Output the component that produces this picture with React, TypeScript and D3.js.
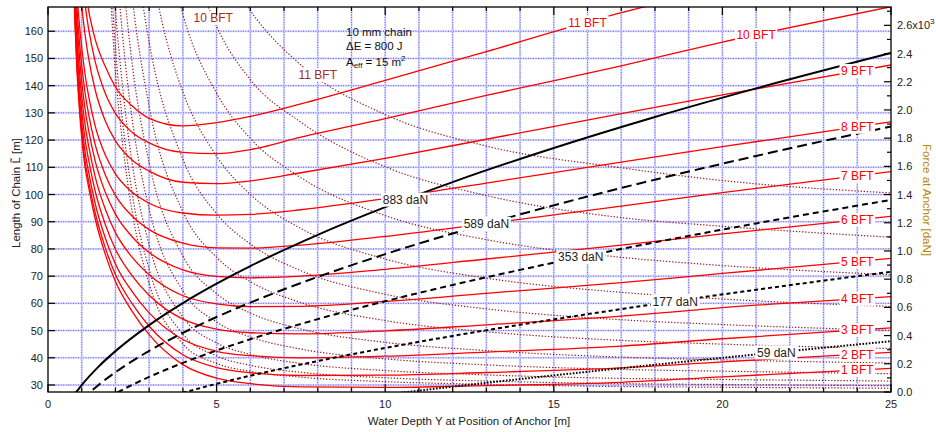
import React from "react";
import * as d3 from "d3";

// ---------- data ----------
const depthGrid = [0.75, 0.8, 0.85, 0.9, 0.95, 1.0, 1.1, 1.2, 1.4, 1.7, 2.0, 2.5, 3.0, 4.0, 5.0, 6.0, 7.5, 10, 13, 17, 20, 25];

const chain1 = [182, 163, 148, 137, 128, 121, 110, 103, 91, 78, 68, 57, 48.5, 37.5, 32.5, 30.5, 29.3, 29.1, 29.8, 31, 33, 36.1];
const chain2 = [183.0, 164.4, 149.8, 139.0, 130.1, 123.1, 112.2, 105.2, 93.2, 80.4, 70.6, 59.8, 51.6, 41.1, 36.4, 34.5, 33.5, 33.6, 34.6, 36.3, 38.5, 42.0];
const chain3 = [184.5, 166.6, 152.5, 142.0, 133.3, 126.4, 115.6, 108.5, 96.6, 84.0, 74.5, 64.2, 56.5, 46.7, 42.4, 40.8, 40.0, 40.6, 42.1, 44.3, 47.0, 51.0];
const chain4 = [186.5, 169.6, 156.2, 146, 137.6, 130.9, 120.2, 113.1, 101.2, 89, 79.9, 70.1, 63.0, 54.2, 50.5, 49.2, 48.8, 49.9, 52.1, 55.3, 58.4, 62.5];
const chain5 = [188.8, 173, 160.4, 150.7, 142.6, 136, 125.5, 118.2, 106.5, 94.6, 86, 76.9, 70.5, 62.8, 59.8, 58.8, 58.9, 60.7, 63.7, 67.6, 71, 76.5];
const chain6 = [191.4, 176.8, 165, 155.8, 148, 141.6, 131.3, 123.9, 112.3, 100.8, 92.8, 84.4, 78.7, 72.3, 69.9, 69.4, 70.0, 72.5, 76.3, 81.4, 85.5, 92];
const chain7 = [194, 180.6, 169.8, 161, 153.6, 147.4, 137.3, 129.8, 118.3, 107.2, 99.7, 92, 87.1, 82.1, 80.4, 80.3, 81.4, 84.6, 89.3, 95.7, 100.7, 108.4];
const chain8 = [197, 185, 175.2, 167, 160, 154, 144.1, 136.5, 125.1, 114.5, 107.6, 100.8, 96.8, 93.2, 92.4, 92.7, 94.4, 98.5, 104.2, 111.9, 117.6, 126.7];
const chain9 = [215.8, 202.9, 192.3, 183.4, 175.7, 169.3, 158.7, 150.4, 138.4, 127.0, 119.7, 112.6, 108.6, 104.5, 104, 105, 108.0, 113.3, 120.3, 129.7, 136.6, 147.6];
const chain10 = [229, 215.8, 204.7, 195.4, 187.5, 180.7, 169.8, 161.2, 148.8, 137.1, 129.8, 122.8, 119.0, 115.5, 115, 116.5, 121.1, 127.9, 136.4, 147.3, 156, 169.0];
const chain11 = [233.6, 220, 209.2, 200, 192.1, 185.4, 176, 168, 157, 147, 139.5, 132.5, 128, 125.2, 126.4, 128.7, 133.3, 141.9, 152.5, 166.8, 175.9, 191.2];
const chainCurves = [chain1, chain2, chain3, chain4, chain5, chain6, chain7, chain8, chain9, chain10, chain11];

const bftNames = ["1 BFT", "2 BFT", "3 BFT", "4 BFT", "5 BFT", "6 BFT", "7 BFT", "8 BFT", "9 BFT", "10 BFT", "11 BFT"];
const bftLabelDepth = [24, 24, 24, 24, 24, 24, 24, 24, 24, 21, 16];

// force at anchor (x10^3 daN) for each wind force
const forceDepth1 = [1.7, 1.85, 2.0, 2.2, 2.5, 3, 4, 5, 6, 7.5, 10, 13, 17, 20, 25];
const force1 = [3.513, 2.827, 2.268, 1.786, 1.274, 0.767, 0.341, 0.2025, 0.146, 0.105, 0.0733, 0.0543, 0.0388, 0.0338, 0.0266];
const forceDepth2 = [1.7, 1.85, 2.0, 2.2, 2.5, 3, 4, 5, 6, 7.5, 10, 13, 17, 20, 25];
const force2 = [3.732, 3.016, 2.445, 1.942, 1.402, 0.8686, 0.4108, 0.2553, 0.189, 0.1396, 0.101, 0.0777, 0.0594, 0.0531, 0.0448];
const forceDepth3 = [1.7, 1.85, 2.0, 2.2, 2.5, 3, 4, 5, 6, 7.5, 10, 13, 17, 20, 25];
const force3 = [4.075, 3.328, 2.723, 2.191, 1.617, 1.042, 0.5315, 0.348, 0.2665, 0.2021, 0.152, 0.1211, 0.0966, 0.0889, 0.0776];
const forceDepth4 = [2.0, 2.2, 2.5, 3, 4, 5, 6, 7.5, 10, 13, 17, 20, 25];
const force4 = [3.133, 2.556, 1.928, 1.296, 0.7173, 0.496, 0.3903, 0.3044, 0.2347, 0.1923, 0.16, 0.1478, 0.1295];
const forceDepth5 = [2.0, 2.2, 2.5, 3, 4, 5, 6, 7.5, 10, 13, 17, 20, 25];
const force5 = [3.629, 3.007, 2.321, 1.624, 0.9643, 0.6974, 0.56, 0.4469, 0.352, 0.2937, 0.2473, 0.2279, 0.2053];
const forceDepth6 = [2.2, 2.5, 3, 4, 5, 6, 7.5, 10, 13, 17, 20, 25];
const force6 = [3.53, 2.796, 2.0245, 1.279, 0.9547, 0.7824, 0.6342, 0.5063, 0.427, 0.366, 0.3393, 0.308];
const forceDepth7 = [2.5, 2.75, 3, 4, 5, 6, 7.5, 10, 13, 17, 20, 25];
const force7 = [3.322, 2.851, 2.48, 1.651, 1.2646, 1.0494, 0.8602, 0.693, 0.5896, 0.5123, 0.4783, 0.437];
const forceDepth8 = [3.0, 3.5, 4, 5, 6, 7.5, 10, 13, 17, 20, 25];
const force8 = [3.064, 2.507, 2.1286, 1.672, 1.4005, 1.1594, 0.9429, 0.8074, 0.7066, 0.6594, 0.606];
const forceDepth9 = [3.5, 4, 5, 6, 7.5, 10, 13, 17, 20, 25];
const force9 = [3.179, 2.677, 2.119, 1.7985, 1.52, 1.2508, 1.0804, 0.955, 0.8966, 0.8312];
const forceDepth10 = [4, 4.5, 5, 6, 7.5, 10, 13, 17, 20, 25];
const force10 = [3.271, 2.892, 2.592, 2.215, 1.913, 1.597, 1.393, 1.2366, 1.1753, 1.0973];
const forceDepth11 = [5, 5.5, 6, 7.5, 10, 13, 17, 20, 25];
const force11 = [3.133, 2.893, 2.705, 2.319, 1.9675, 1.744, 1.59, 1.4995, 1.4114];
const forceCurves = [
  [forceDepth1, force1], [forceDepth2, force2], [forceDepth3, force3], [forceDepth4, force4],
  [forceDepth5, force5], [forceDepth6, force6], [forceDepth7, force7], [forceDepth8, force8],
  [forceDepth9, force9], [forceDepth10, force10], [forceDepth11, force11],
];
const forceLabelNames = ["10 BFT", "11 BFT"];
const forceLabelCurve = [9, 10];
const forceLabelDepth = [4.9, 8.0];

// constant anchor force contours (chain length vs depth)
const contourNames = ["883 daN", "589 daN", "353 daN", "177 daN", "59 daN"];
const contour883Depth = [0.8, 1, 1.5, 2, 3, 4, 5, 6, 8, 10, 12, 15, 18, 21, 25];
const contour883Len = [26.8, 30.0, 36.76, 42.45, 52.02, 60.11, 67.24, 73.7, 85.19, 95.35, 104.57, 117.1, 128.5, 139.0, 152.0];
const contour589Depth = [1.0, 1.2, 1.5, 2, 3, 4, 5, 6, 8, 10, 12, 14, 16, 18, 21, 25];
const contour589Len = [24.5, 26.86, 30.03, 34.69, 42.53, 49.14, 54.99, 60.29, 69.73, 78.09, 85.68, 92.7, 99.26, 105.45, 114.18, 124.98];
const contour353Depth = [1.8, 2, 2.5, 3, 4, 5, 6, 8, 10, 12, 14, 16, 18, 21, 25];
const contour353Len = [25.5, 26.88, 30.08, 32.97, 38.13, 42.68, 46.82, 54.21, 60.78, 66.76, 72.3, 77.5, 82.42, 89.38, 98.03];
const contour177Depth = [3.0, 3.8, 4, 4.5, 5, 6, 8, 10, 12, 14, 16, 18, 21, 25];
const contour177Len = [23.4, 26.44, 27.14, 28.83, 30.43, 33.42, 38.8, 43.61, 48.03, 52.14, 56.03, 59.73, 65.0, 71.62];
const contour59Depth = [10, 10.5, 11, 12, 14, 16, 18, 21, 25];
const contour59Len = [26.46, 27.21, 27.95, 29.39, 32.19, 34.87, 37.47, 41.24, 46.1];
const contourCurves = [
  [contour883Depth, contour883Len], [contour589Depth, contour589Len], [contour353Depth, contour353Len],
  [contour177Depth, contour177Len], [contour59Depth, contour59Len],
];
const contourDash = ["none", "10,5", "6,4", "4,3", "1.6,1.6"];
const contourLabelDepth = [10.6, 13.0, 15.8, 18.6, 21.6];

const depthTicks = [0, 5, 10, 15, 20, 25];
const lengthTicks = [30, 40, 50, 60, 70, 80, 90, 100, 110, 120, 130, 140, 150, 160];
const forceTicks = [0, 0.2, 0.4, 0.6, 0.8, 1.0, 1.2, 1.4, 1.6, 1.8, 2.0, 2.2, 2.4, 2.6];

// ---------- layout ----------
const W = 936, H = 432;
const PL = 48, PR = 891, PT = 7, PB = 392;
const FONT = "'Liberation Sans', Arial, Helvetica, sans-serif";

export default function App() {
  const x = d3.scaleLinear().domain([0, 25]).range([PL, PR]);
  const yL = d3.scaleLinear().domain([27.43, 168.9]).range([PB, PT]);
  const yF = d3.scaleLinear().domain([0, 2.73]).range([PB, PT]);
  const line = d3.line<[number, number]>().curve(d3.curveMonotoneX);

  const minorX = d3.range(1, 25).filter((v) => v % 5 !== 0);
  const minorF = d3.range(1, 28, 2).map((v) => v / 10);

  const labelBox = (cx: number, cy: number, text: string, size: number, color: string, key: string) => {
    const w = text.length * size * 0.56 + 2;
    const h = size + 2;
    return (
      <g key={key}>
        <rect x={cx - w / 2} y={cy - h / 2} width={w} height={h} fill="white" />
        <text x={cx} y={cy + size * 0.36} textAnchor="middle" fontSize={size} fill={color} fontFamily={FONT}>
          {text}
        </text>
      </g>
    );
  };

  return (
    <svg width={W} height={H} style={{ position: "absolute", left: 0, top: 0, background: "white" }}>
      <defs>
        <clipPath id="plotclip">
          <rect x={PL} y={PT} width={PR - PL} height={PB - PT} />
        </clipPath>
      </defs>
      <rect x={0} y={0} width={W} height={H} fill="white" />

      {/* grid */}
      <g>
        {d3.range(1, 25).map((v) => (
          <g key={"gx" + v}>
            <line x1={x(v)} x2={x(v)} y1={PT} y2={PB} stroke="#d6d6ff" strokeWidth={2} />
            <line x1={x(v)} x2={x(v)} y1={PT} y2={PB} stroke="#5f5fff" strokeWidth={1} strokeDasharray="1,1.5" />
          </g>
        ))}
        {lengthTicks.map((v) => (
          <g key={"gy" + v}>
            <line x1={PL} x2={PR} y1={yL(v)} y2={yL(v)} stroke="#d6d6ff" strokeWidth={2} />
            <line x1={PL} x2={PR} y1={yL(v)} y2={yL(v)} stroke="#5f5fff" strokeWidth={1} strokeDasharray="1,1.5" />
          </g>
        ))}
      </g>

      <g clipPath="url(#plotclip)">
        {/* force at anchor per wind force (dotted) */}
        {forceCurves.map(([ds, fs], i) => (
          <path
            key={"f" + i}
            d={line(ds.map((d, j) => [x(d), yF(fs[j])] as [number, number])) || ""}
            fill="none"
            stroke="#981c1c"
            strokeWidth={1.2}
            strokeDasharray="1.3,1.8"
          />
        ))}
        {/* chain length per wind force (red) */}
        {chainCurves.map((ls, i) => (
          <path
            key={"c" + i}
            d={line(depthGrid.map((d, j) => [x(d), yL(ls[j])] as [number, number])) || ""}
            fill="none"
            stroke="#ff0000"
            strokeWidth={1.3}
          />
        ))}
        {/* constant force contours (black) */}
        {contourCurves.map(([ds, ls], i) => (
          <path
            key={"k" + i}
            d={line(ds.map((d, j) => [x(d), yL(ls[j])] as [number, number])) || ""}
            fill="none"
            stroke="#000"
            strokeWidth={2}
            strokeDasharray={contourDash[i]}
          />
        ))}
      </g>

      {/* labels */}
      {chainCurves.map((ls, i) => {
        const interp = d3.scaleLinear().domain(depthGrid).range(ls);
        const d = bftLabelDepth[i];
        return labelBox(x(d), yL(interp(d)), bftNames[i], 12, "#ff0000", "bl" + i);
      })}
      {forceLabelNames.map((name, i) => {
        const [ds, fs] = forceCurves[forceLabelCurve[i]];
        const interp = d3.scaleLinear().domain(ds).range(fs);
        const d = forceLabelDepth[i];
        return labelBox(x(d), yF(interp(d)), name, 12, "#a52a2a", "fl" + i);
      })}
      {contourCurves.map(([ds, ls], i) => {
        const interp = d3.scaleLinear().domain(ds).range(ls);
        const d = contourLabelDepth[i];
        return labelBox(x(d), yL(interp(d)), contourNames[i], 12, "#222", "kl" + i);
      })}

      {/* info text */}
      <g fontFamily={FONT} fontSize={11.5} fill="#111">
        <text x={346} y={36}>10 mm chain</text>
        <text x={346} y={50}>ΔE = 800 J</text>
        <text x={346} y={66}>
          A<tspan fontSize={8} dy={2}>eff</tspan>
          <tspan dy={-2}> = 15 m</tspan>
          <tspan fontSize={8} dy={-5}>2</tspan>
        </text>
      </g>

      {/* frame */}
      <rect x={PL} y={PT} width={PR - PL} height={PB - PT} fill="none" stroke="#000" strokeWidth={1.3} />

      {/* ticks */}
      <g stroke="#000" strokeWidth={1.2}>
        {depthTicks.map((v) => (
          <g key={"xt" + v}>
            <line x1={x(v)} x2={x(v)} y1={PB} y2={PB - 8} />
            <line x1={x(v)} x2={x(v)} y1={PT} y2={PT + 8} />
          </g>
        ))}
        {minorX.map((v) => (
          <g key={"xm" + v}>
            <line x1={x(v)} x2={x(v)} y1={PB} y2={PB - 4} />
            <line x1={x(v)} x2={x(v)} y1={PT} y2={PT + 4} />
          </g>
        ))}
        {lengthTicks.map((v) => (
          <line key={"yt" + v} x1={PL} x2={PL + 7} y1={yL(v)} y2={yL(v)} />
        ))}
        {forceTicks.map((v) => (
          <line key={"ft" + v} x1={PR} x2={PR - 7} y1={yF(v)} y2={yF(v)} />
        ))}
        {minorF.map((v) => (
          <line key={"fm" + v} x1={PR} x2={PR - 4} y1={yF(v)} y2={yF(v)} />
        ))}
      </g>

      {/* tick labels */}
      <g fontFamily={FONT} fontSize={11} fill="#222">
        {depthTicks.map((v) => (
          <text key={"xl" + v} x={x(v)} y={408} textAnchor="middle">{v}</text>
        ))}
        {lengthTicks.map((v) => (
          <text key={"yl" + v} x={43} y={yL(v) + 4} textAnchor="end">{v}</text>
        ))}
        {forceTicks.map((v, i) =>
          i === forceTicks.length - 1 ? (
            <text key={"fl" + v} x={897} y={yF(v) + 4}>
              {v.toFixed(1)}x10<tspan fontSize={8} dy={-5}>3</tspan>
            </text>
          ) : (
            <text key={"fl" + v} x={897} y={yF(v) + 4}>{v.toFixed(1)}</text>
          )
        )}
      </g>

      {/* axis titles */}
      <text x={(PL + PR) / 2 - 0.5} y={425} textAnchor="middle" fontFamily={FONT} fontSize={11.5} fill="#222">
        Water Depth Y at Position of Anchor [m]
      </text>
      <text
        transform={`translate(20,${193}) rotate(-90)`}
        textAnchor="middle"
        fontFamily={FONT}
        fontSize={11.5}
        fill="#222"
      >
        Length of Chain L̃ [m]
      </text>
      <text
        transform={`translate(923,${200}) rotate(90)`}
        textAnchor="middle"
        fontFamily={FONT}
        fontSize={11.5}
        fill="#b8860b"
      >
        Force at Anchor [daN]
      </text>
    </svg>
  );
}
